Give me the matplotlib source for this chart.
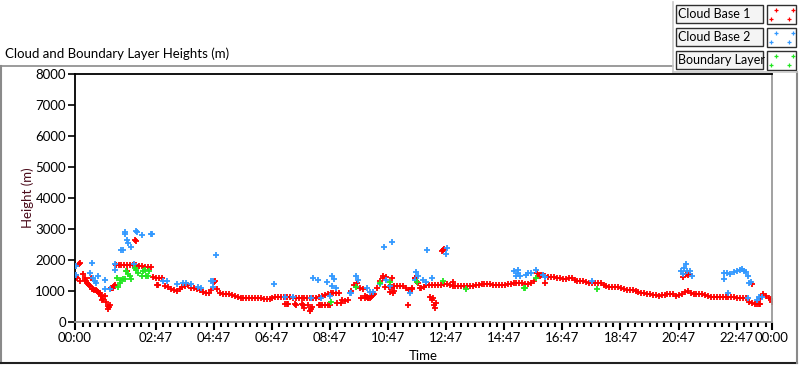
import numpy as np
import matplotlib.pyplot as plt
from matplotlib.patches import Rectangle
from matplotlib.lines import Line2D

plt.rcParams['font.family'] = ['Lato', 'DejaVu Sans']

# ---- data (time in hours since 00:00, height in m) ----
# Cloud Base 1: main band sampled every 0.1 h from 01:24 to 24:00
cb1_band_start = 1.4
cb1_band_h = [
    1846, 1825, 1825, 1825, 1825, 1825, 1825, 1825, 1800, 1800,
    1790, 1790, 1780, 1440, 1420, 1420, 1420, 1166, 1120, 1080,
    1040, 1004, 1060, 1130, 1150, 1198, 1100, 1090, 1080, 1036,
    960, 950, 950, 1036, 1300, 1050, 950, 900, 896, 896,
    870, 850, 820, 790, 766, 766, 766, 766, 766, 766,
    760, 745, 745, 750, 766, 800, 820, 820, 820, 820,
    810, 790, 787, 780, 766, 787, 780, 766, 766, 787,
    820, 842, 880, 907, 929, 929, 929, 929, 700, 680,
    713, 1000, 1198, 1252, 1090, 1050, 850, 790, 800, 900,
    1090, 1307, 1420, 1440, 1144, 1144, 1150, 1166, 1166, 1160,
    1090, 1036, 1060, 1415, 1250, 1090, 1144, 1180, 1198, 1190,
    1198, 1200, 1198, 1210, 1220, 1200, 1177, 1170, 1160, 1155,
    1155, 1155, 1155, 1155, 1180, 1198, 1210, 1220, 1220, 1215,
    1200, 1198, 1198, 1198, 1205, 1220, 1240, 1260, 1274, 1260,
    1252, 1240, 1220, 1260, 1307, 1576, 1500, 1522, 1468, 1460,
    1447, 1440, 1420, 1415, 1400, 1393, 1410, 1415, 1340, 1328,
    1310, 1307, 1290, 1274, 1265, 1252, 1252, 1250, 1200, 1166,
    1144, 1144, 1144, 1120, 1090, 1060, 1036, 1036, 1020, 990,
    975, 950, 929, 910, 896, 880, 860, 853, 865, 874,
    890, 918, 890, 853, 870, 896, 960, 1015, 929, 910,
    896, 896, 896, 880, 840, 820, 820, 820, 820, 820,
    820, 820, 820, 800, 787, 780, 766, 766, 637, 610,
    572, 572, 780, 896, 840, 760, 637,
]
# Cloud Base 1: scattered detections
cb1_t = [0.0, 0.02, 0.05, 0.07, 0.14, 0.18, 0.18, 0.28, 0.33, 0.36, 0.39, 0.42,
         0.45, 0.48, 0.51, 0.56, 0.6, 0.62, 0.66, 0.71, 0.75, 0.79, 0.82, 0.85,
         0.88, 0.91, 0.94, 0.97, 1.02, 1.08, 1.14, 1.14, 1.2, 1.17, 1.23, 1.27,
         1.31, 1.34, 1.37, 1.8, 2.08, 2.1, 2.83, 2.86, 4.83,
         7.23, 7.3, 7.35, 7.57, 7.62, 7.8, 7.85, 7.9, 8.03, 8.09, 8.12, 8.15,
         8.39, 8.45, 8.5, 8.62, 8.7, 8.79, 9.02, 9.17,
         9.86, 9.98, 10.04, 10.1, 10.15, 10.27, 10.61, 10.67, 10.84, 10.9, 10.96,
         11.0, 11.48, 11.53, 11.59, 11.71, 11.76, 11.88, 12.22, 12.3, 12.34,
         12.35, 12.39, 12.43, 12.65, 12.68, 12.72, 13.0,
         16.18, 16.06, 15.95, 20.93, 21.04, 21.1, 21.18, 23.31, 23.54, 23.6,
         23.95]
cb1_h = [1792, 1522, 1450, 1415, 1868, 1900, 1307, 1544, 1415, 1370, 1307, 1260,
         1220, 1190, 1166, 1415, 1080, 1058, 1045, 1036, 1000, 982, 950, 929,
         880, 842, 713, 745, 842, 637, 518, 410, 551, 470, 1112, 1112,
         1112, 1150, 1198, 1650, 2635, 2600, 1198, 1190, 1328,
         572, 572, 572, 572, 560, 572, 560, 454, 551, 356, 420, 496,
         551, 551, 551, 551, 551, 551, 605, 605,
         766, 766, 820, 787, 787, 874, 1468, 1144, 982, 1415, 929,
         1000, 551, 1036, 1100, 1415, 1300, 1090, 820, 720, 766,
         560, 464, 605, 2300, 2332, 2350, 1300,
         1274, 1522, 1468, 1447, 1544, 1510, 1544, 1220, 572, 572,
         745]

# Cloud Base 2
cb2_t = [0.02, 0.05, 0.59, 0.53, 0.62, 0.68, 0.79, 0.74, 1.05, 1.02, 1.2, 1.39,
         1.37, 1.58, 1.66, 1.72, 1.73, 1.8, 1.83, 1.92, 2.1, 2.14, 2.31, 2.6,
         2.66, 2.03, 3.04, 3.16, 3.52, 3.73, 3.81, 3.98, 4.22, 4.34, 4.68, 4.74,
         4.87, 4.75, 6.86, 7.23, 7.51, 8.12, 8.21, 8.36, 8.47, 8.67, 8.78, 8.84,
         8.86, 8.93, 8.98, 9.47, 9.52, 9.67, 9.75, 10.04, 10.15, 10.27, 10.5,
         10.64, 10.7, 10.84, 10.92, 11.53, 11.71, 11.74, 11.82, 11.99, 12.07,
         12.13, 12.28, 12.78, 12.8, 15.11, 15.18, 15.24, 15.26, 15.32, 15.52,
         15.59, 15.7, 15.89, 16.12, 16.2, 17.81, 20.87, 20.92, 20.97, 21.04,
         21.06, 21.18, 21.24, 22.35, 22.35, 22.45, 22.47, 22.56, 22.68, 22.79,
         22.9, 22.96, 23.04, 23.11, 23.16, 23.19, 23.22, 23.27, 23.48, 23.54,
         23.65]
cb2_h = [1792, 1522, 1900, 1576, 1415, 1328, 1468, 1252, 1350, 1058, 1058, 1868,
         1684, 2310, 2310, 2904, 2850, 2655, 2550, 2420, 2925, 2910, 2818, 2850,
         2850, 1868, 1328, 1328, 1220, 1252, 1252, 1230, 1144, 1090, 1328, 1144,
         2148, 1328, 1220, 820, 820, 787, 1415, 1360, 787, 1285, 853, 1177,
         1500, 1393, 1090, 929, 929, 1490, 1350, 1090, 982, 982, 1220,
         2418, 1350, 1166, 2580, 929, 1350, 1598, 1490, 1370, 1290,
         2310, 1415, 2200, 2375, 1652, 1468, 1576, 1684, 1490, 1522,
         1576, 1576, 1684, 1522, 1447, 1307, 1630, 1544, 1738, 1879,
         1630, 1630, 1468, 1576, 1393, 1576, 929, 1544, 1620, 1630,
         1684, 1720, 1652, 1600, 1468, 787, 1252, 1285, 713, 820,
         820]

# Boundary Layer
bl_t = [1.43, 1.49, 1.54, 1.6, 1.66, 1.72, 1.77, 1.83, 1.91, 1.94, 2.06, 2.1,
        2.18, 2.29, 2.35, 2.41, 2.44, 2.52, 2.55, 8.82, 9.69, 10.5, 10.84,
        11.76, 12.68, 13.45, 15.45, 15.49, 15.89, 17.99]
bl_h = [1415, 1144, 1252, 1360, 1393, 1380, 1630, 1544, 1470, 1393, 1738, 1684,
        1576, 1468, 1630, 1684, 1468, 1468, 1630, 658, 1144, 1252, 1280,
        1280, 1307, 1058, 1090, 1090, 1415, 1058]

tick_labels = ['00:00', '02:47', '04:47', '06:47', '08:47', '10:47', '12:47',
               '14:47', '16:47', '18:47', '20:47', '22:47', '00:00']
y_ticks = [0, 1000, 2000, 3000, 4000, 5000, 6000, 7000, 8000]

series_names = ['Cloud Base 1', 'Cloud Base 2', 'Boundary Layer']
colors = ['#ff0000', '#3399ff', '#22e622']

FS = 9.5

# ---- figure ----
fig = plt.figure(figsize=(8, 3.65), dpi=100)
ax = fig.add_axes([75 / 800, 43 / 365, 697 / 800, 248 / 365])

band_t = cb1_band_start + 0.1 * np.arange(len(cb1_band_h))
mk = dict(marker='+', s=17, linewidths=1.3)
ax.scatter(band_t, cb1_band_h, c=colors[0], zorder=2, **mk)
ax.scatter(cb1_t, cb1_h, c=colors[0], zorder=2, **mk)
ax.scatter(cb2_t, cb2_h, c=colors[1], zorder=3, **mk)
ax.scatter(bl_t, bl_h, c=colors[2], zorder=4, **mk)

ax.set_xlim(0, 24)
ax.set_ylim(0, 8000)

# x ticks from the labels
pos = []
for i, lab in enumerate(tick_labels):
    hh, mm = lab.split(':')
    p = int(hh) + int(mm) / 60
    if i == len(tick_labels) - 1:
        p = 24
    pos.append(p)
ax.set_xticks(pos)
ax.set_xticklabels(tick_labels)
minor = [p for p in np.arange(pos[1] - 0.25 * 10, 24, 0.25)
         if 0.2 < p < 23.99 and min(abs(p - q) for q in pos) > 0.05]
ax.set_xticks(minor, minor=True)
ax.set_yticks(y_ticks)

ax.tick_params(axis='x', which='major', length=6, width=1.5, pad=1.5,
               labelsize=FS, direction='out')
ax.tick_params(axis='x', which='minor', length=3.5, width=1.5, direction='out')
ax.tick_params(axis='y', length=5, width=1.2, pad=1.5, labelsize=FS)

for side in ['left', 'top']:
    ax.spines[side].set_color('black')
    ax.spines[side].set_linewidth(1.3)
for side in ['right', 'bottom']:
    ax.spines[side].set_color('#9a9a9a')
    ax.spines[side].set_linewidth(1.3)

ax.set_ylabel('Height (m)', fontsize=FS, color='#4a0a1a', labelpad=1)
ax.set_xlabel('Time', fontsize=FS, labelpad=4)

# outer frame and title
fig.add_artist(Line2D([1 / 800, 673 / 800], [1 - 66 / 365, 1 - 66 / 365],
                      color='#8a8a8a', lw=1.2))
fig.add_artist(Line2D([1 / 800, 1 / 800], [1 - 66 / 365, 1 - 363 / 365],
                      color='#8a8a8a', lw=1.5))
fig.add_artist(Line2D([1 / 800, 797 / 800], [1 - 363 / 365, 1 - 363 / 365],
                      color='#202020', lw=1.5))
fig.add_artist(Line2D([797 / 800, 797 / 800], [1 - 72 / 365, 1 - 363 / 365],
                      color='#8a8a8a', lw=1.5))
fig.add_artist(Line2D([673 / 800, 673 / 800], [1 - 2 / 365, 1 - 72 / 365],
                      color='#c8c8c8', lw=1.2))
fig.add_artist(Line2D([673 / 800, 797 / 800], [1 - 72 / 365, 1 - 72 / 365],
                      color='#c8c8c8', lw=1.2))
fig.text(5 / 800, 1 - 54 / 365, 'Cloud and Boundary Layer Heights (m)',
         fontsize=FS, va='center', ha='left')

# legend panel
for i, (name, col) in enumerate(zip(series_names, colors)):
    top = 5 + i * 23
    fig.add_artist(Rectangle((676 / 800, 1 - (top + 18) / 365), 87 / 800, 18 / 365,
                             facecolor='#f4f4f4', edgecolor='#303030', lw=1.0))
    fig.text(678 / 800, 1 - (top + 9) / 365, name, fontsize=9,
             va='center', ha='left')
    fig.add_artist(Rectangle((767 / 800, 1 - (top + 19) / 365), 29 / 800, 19 / 365,
                             facecolor='white', edgecolor='#303030', lw=1.0))
    for dx, dy in [(776, 5), (771, 14), (789, 14), (793, 5)]:
        fig.add_artist(Line2D([dx / 800], [1 - (top + dy) / 365], marker='+',
                              color=col, ms=3.5, mew=0.9, ls='none'))

fig.savefig('out.png', dpi=100)
